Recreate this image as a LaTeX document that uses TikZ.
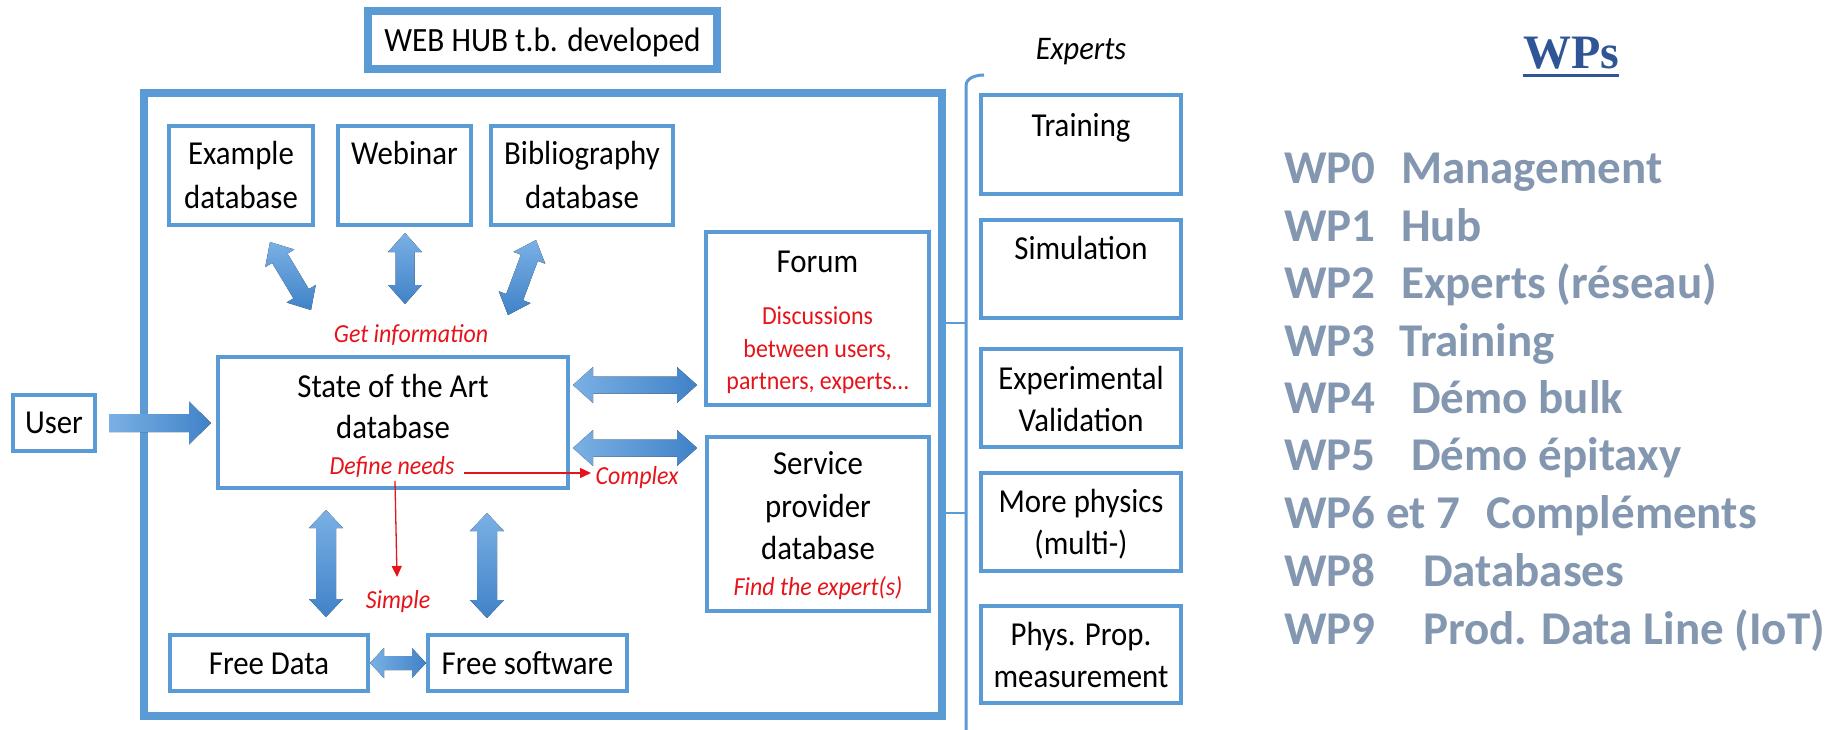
\documentclass[tikz,border=0pt]{standalone}
\usepackage{fontspec}
\setmainfont{Carlito}[FakeStretch=0.92]
\newfontfamily\wpfont{Carlito}
\newfontfamily\serifwp{Liberation Serif}
\usetikzlibrary{calc,arrows.meta}
\definecolor{boxblue}{RGB}{91,155,213}
\definecolor{arrlight}{RGB}{122,176,228}
\definecolor{arrdark}{RGB}{64,130,200}
\definecolor{redtxt}{RGB}{230,20,26}
\definecolor{wpgray}{RGB}{132,151,176}
\definecolor{wpsblue}{RGB}{47,85,151}
\newcommand{\dblblock}[6]{%
  \coordinate (ba-h1) at ($(#2)!#6!(#3)$);
  \coordinate (ba-h2) at ($(#3)!#6!(#2)$);
  \fill[#1] (#2) -- ($(ba-h1)!#5!90:(#3)$) -- ($(ba-h1)!#4!90:(#3)$)
    -- ($(ba-h2)!#4!-90:(#2)$) -- ($(ba-h2)!#5!-90:(#2)$) -- (#3)
    -- ($(ba-h2)!#5!90:(#2)$) -- ($(ba-h2)!#4!90:(#2)$)
    -- ($(ba-h1)!#4!-90:(#3)$) -- ($(ba-h1)!#5!-90:(#3)$) -- cycle;
}
\tikzset{
  frame/.style={draw=boxblue, line width=4pt, fill=white, inner sep=0pt},
  bigframe/.style={draw=boxblue, line width=8.5pt, inner sep=0pt},
  lbl/.style={anchor=base, inner sep=0pt, font=\fontsize{33.5}{40}\selectfont},
  redlbl/.style={anchor=base, inner sep=0pt, text=redtxt, font=\fontsize{26}{32}\selectfont},
  redit/.style={redlbl, font=\fontsize{26}{32}\selectfont\itshape},
  wp/.style={anchor=base west, inner sep=0pt, text=wpgray, font=\fontsize{47}{56}\wpfont\bfseries},
  harrow/.style={left color=arrlight, right color=arrdark},
  varrow/.style={top color=arrlight, bottom color=arrdark},
  redarrow/.style={draw=redtxt, line width=1.3pt, -{Triangle[length=11pt,width=10pt]}},
  bracestyle/.style={draw=boxblue, line width=3pt}
}
\begin{document}
\begin{tikzpicture}[x=1pt,y=-1pt]
\useasboundingbox (0,0) rectangle (1843,730);
\fill[white] (0,0) rectangle (1843,730);

% top title box
\node[bigframe, line width=8pt, fill=white, minimum width=349pt, minimum height=58pt] (hub) at (542.5,40) {};
\node[lbl, font=\fontsize{34}{40}\selectfont] (hubt) at (542.5,52) {WEB HUB t.b. developed};

% big outer box
\node[bigframe, minimum width=798pt, minimum height=623pt] (outer) at (543,404.5) {};

% top row boxes
\node[frame, minimum width=144pt, minimum height=99pt] (ex) at (241,175.5) {};
\node[lbl] (ext1) at (241,165) {Example};
\node[lbl] (ext2) at (241,208) {database};
\node[frame, minimum width=133pt, minimum height=99pt] (web) at (404.5,175.5) {};
\node[lbl] (webt) at (404.5,165) {Webinar};
\node[frame, minimum width=182pt, minimum height=99pt] (bib) at (582,175.5) {};
\node[lbl] (bibt1) at (582,165) {Bibliography};
\node[lbl] (bibt2) at (582,208) {database};

% forum
\node[frame, minimum width=223pt, minimum height=173pt] (forum) at (817.5,318.5) {};
\node[lbl] (forumt) at (817.5,272) {Forum};
\node[redlbl] (forumr1) at (817.5,324) {Discussions};
\node[redlbl] (forumr2) at (817.5,357) {between users,};
\node[redlbl] (forumr3) at (817.5,389) {partners, experts\dots};

% state of the art
\node[frame, minimum width=350pt, minimum height=131pt] (soa) at (393,422.5) {};
\node[lbl] (soat1) at (393,397) {State of the Art};
\node[lbl] (soat2) at (393,438) {database};
\node[redit] (defn) at (392,474) {Define needs};
\node[redit] (getinfo) at (411,342) {Get information};
\node[redit] (complex) at (637,484) {Complex};
\node[redit] (simple) at (398,608) {Simple};

% service provider
\node[frame, minimum width=222pt, minimum height=174pt] (serv) at (818,524) {};
\node[lbl] (servt1) at (818,474) {Service};
\node[lbl] (servt2) at (818,517) {provider};
\node[lbl] (servt3) at (818,559) {database};
\node[redit] (find) at (818,595) {Find the expert(s)};

% free data / software
\node[frame, minimum width=198pt, minimum height=56pt] (fdata) at (269,663) {};
\node[lbl] (fdatat) at (269,674) {Free Data};
\node[frame, minimum width=199pt, minimum height=56pt] (fsoft) at (527.5,663) {};
\node[lbl] (fsoftt) at (527.5,674) {Free software};

% user
\node[frame, minimum width=82pt, minimum height=56pt] (user) at (54,423) {};
\node[lbl] (usert) at (54,433) {User};

% block arrows
\coordinate (ua1) at (109,423);
\coordinate (ua2) at (211,423);
\fill[harrow] ($(ua1)+(0,-9)$) -- ($(ua2)+(-22,-9)$) -- ($(ua2)+(-22,-21.5)$) -- (ua2)
  -- ($(ua2)+(-22,21.5)$) -- ($(ua2)+(-22,9)$) -- ($(ua1)+(0,9)$) -- cycle;

\coordinate (a1s) at (270,242); \coordinate (a1e) at (311,310);
\dblblock{varrow}{a1s}{a1e}{9pt}{17pt}{19pt}
\coordinate (a2s) at (405,233); \coordinate (a2e) at (405,304);
\dblblock{varrow}{a2s}{a2e}{9.5pt}{17pt}{19pt}
\coordinate (a3s) at (536,240); \coordinate (a3e) at (508,315);
\dblblock{varrow}{a3s}{a3e}{9pt}{17pt}{19pt}

\coordinate (a4s) at (573,385); \coordinate (a4e) at (697,385);
\dblblock{harrow}{a4s}{a4e}{8.5pt}{18pt}{20pt}
\coordinate (a5s) at (573,448); \coordinate (a5e) at (697,448);
\dblblock{harrow}{a5s}{a5e}{8.5pt}{18pt}{20pt}

\coordinate (a6s) at (326,510); \coordinate (a6e) at (326,617);
\dblblock{varrow}{a6s}{a6e}{10pt}{17pt}{18pt}
\coordinate (a7s) at (487,513); \coordinate (a7e) at (487,618);
\dblblock{varrow}{a7s}{a7e}{10pt}{17pt}{18pt}

\coordinate (a8s) at (370,663); \coordinate (a8e) at (426,663);
\dblblock{harrow}{a8s}{a8e}{7pt}{15pt}{14pt}

% red arrows
\coordinate (r1s) at (464,473); \coordinate (r1e) at (591,473);
\draw[redarrow] (r1s) -- (r1e);
\coordinate (r2s) at (395,481); \coordinate (r2e) at (397,577);
\draw[redarrow] (r2s) -- (r2e);

% experts column
\node[anchor=base, inner sep=0pt, font=\fontsize{33}{40}\selectfont\itshape] (experts) at (1081,60) {Experts};
\coordinate (brtop) at (984,75);
\coordinate (brbot) at (966,732);
\coordinate (brt1) at (946,323);
\coordinate (brt2) at (946,513);
\draw[bracestyle] (brtop) to[out=180,in=90] (966,86) -- (brbot);
\draw[bracestyle, line width=2.5pt] (966,323) -- (brt1);
\draw[bracestyle, line width=2.5pt] (966,513) -- (brt2);

\node[frame, minimum width=200pt, minimum height=99pt] (train) at (1081,144.5) {};
\node[lbl] (traint) at (1081,137) {Training};
\node[frame, minimum width=200pt, minimum height=98pt] (simu) at (1081,269) {};
\node[lbl] (simut) at (1081,259) {Simulation};
\node[frame, minimum width=200pt, minimum height=98pt] (expv) at (1081,398) {};
\node[lbl] (expvt1) at (1081,389) {Experimental};
\node[lbl] (expvt2) at (1081,431) {Validation};
\node[frame, minimum width=200pt, minimum height=98pt] (morep) at (1081,522) {};
\node[lbl] (morept1) at (1081,512) {More physics};
\node[lbl] (morept2) at (1081,554) {(multi-)};
\node[frame, minimum width=200pt, minimum height=97pt] (physp) at (1081,654.5) {};
\node[lbl] (physpt1) at (1081,645) {Phys. Prop.};
\node[lbl] (physpt2) at (1081,687) {measurement};

% WPs list
\node[anchor=base, inner sep=0pt, text=wpsblue, font=\fontsize{48}{56}\serifwp\bfseries] (wps) at (1571,69) {WPs};
\draw[wpsblue, line width=3pt] ($(wps.base west)+(0,7)$) -- ($(wps.base east)+(0,7)$);

\node[wp] (w0a) at (1284,183) {WP0};  \node[wp] (w0b) at (1401,183) {Management};
\node[wp] (w1a) at (1284,241) {WP1};  \node[wp] (w1b) at (1401,241) {Hub};
\node[wp] (w2a) at (1284,298) {WP2};  \node[wp] (w2b) at (1401,298) {Experts (réseau)};
\node[wp] (w3a) at (1284,356) {WP3};  \node[wp] (w3b) at (1399,356) {Training};
\node[wp] (w4a) at (1284,413) {WP4};  \node[wp] (w4b) at (1411,413) {Démo bulk};
\node[wp] (w5a) at (1284,470) {WP5};  \node[wp] (w5b) at (1411,470) {Démo épitaxy};
\node[wp] (w6a) at (1284,528) {WP6 et 7}; \node[wp] (w6b) at (1486,528) {Compléments};
\node[wp] (w8a) at (1284,586) {WP8};  \node[wp] (w8b) at (1423,586) {Databases};
\node[wp] (w9a) at (1284,644) {WP9};  \node[wp] (w9b) at (1423,644) {Prod. Data Line (IoT)};
\end{tikzpicture}
\end{document}
